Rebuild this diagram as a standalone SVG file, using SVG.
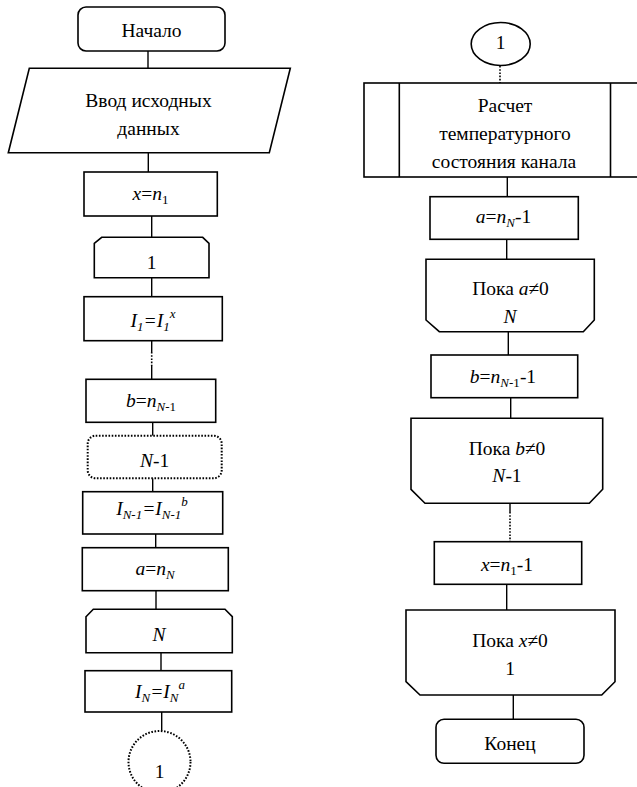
<svg xmlns="http://www.w3.org/2000/svg" width="637" height="787" viewBox="0 0 637 787">
<style>
.s{fill:#fff;stroke:#000;stroke-width:1.6}
.d{fill:#fff;stroke:#000;stroke-width:2;stroke-dasharray:1.6 1.6}
.c{stroke:#000;stroke-width:1.4;fill:none}
.cd{stroke:#000;stroke-width:1.6;fill:none;stroke-dasharray:1.6 1.6}
text{font-family:'Liberation Serif','Times New Roman',serif;font-size:19.5px;fill:#000;text-anchor:middle}
.i{font-style:italic}
.sb{font-size:13px}
</style>
<rect width="637" height="787" fill="#fff"/>
<g id="connectors">
<line class="c" x1="148" y1="51" x2="148" y2="68"/>
<line class="c" x1="148.3" y1="153" x2="148.3" y2="172"/>
<line class="c" x1="151.7" y1="216" x2="151.7" y2="237.3"/>
<line class="c" x1="151.7" y1="277.7" x2="151.7" y2="296.7"/>
<line class="c" x1="151.7" y1="340.7" x2="151.7" y2="352"/>
<line class="cd" x1="151.7" y1="352" x2="151.7" y2="366"/>
<line class="c" x1="151.7" y1="366" x2="151.7" y2="379.3"/>
<line class="c" x1="152.7" y1="422.3" x2="152.7" y2="435.7"/>
<line class="c" x1="152.7" y1="478.3" x2="152.7" y2="491.7"/>
<line class="c" x1="155.7" y1="534" x2="155.7" y2="547.7"/>
<line class="c" x1="156" y1="590.7" x2="156" y2="609.3"/>
<line class="c" x1="161" y1="652.7" x2="161" y2="670.7"/>
<line class="c" x1="161.7" y1="712" x2="161.7" y2="731"/>
<line class="cd" x1="500" y1="66" x2="500" y2="83"/>
<line class="c" x1="507.3" y1="177" x2="507.3" y2="196.7"/>
<line class="c" x1="506.7" y1="239.3" x2="506.7" y2="259.3"/>
<line class="c" x1="508.3" y1="331.7" x2="508.3" y2="355"/>
<line class="c" x1="510.7" y1="397.7" x2="510.7" y2="418.3"/>
<line class="c" x1="510" y1="503.3" x2="510" y2="512"/>
<line class="cd" x1="510" y1="512" x2="510" y2="541.7"/>
<line class="c" x1="506.7" y1="584.3" x2="506.7" y2="610"/>
<line class="c" x1="513.3" y1="695" x2="513.3" y2="719.3"/>
</g>
<g id="start">
<rect class="s" x="78" y="7" width="147" height="44" rx="8"/>
<text x="151.5" y="36.5">Начало</text>
</g>
<g id="input">
<polygon class="s" points="29.3,68.3 290.3,68.3 269.3,152.7 8.3,152.7"/>
<text x="148.5" y="107.3">Ввод исходных</text>
<text x="148.5" y="135">данных</text>
</g>
<g id="x_n1">
<rect class="s" x="84" y="172" width="133.3" height="44"/>
<text x="150.5" y="200"><tspan class="i">x</tspan>=<tspan class="i">n</tspan><tspan class="sb" dy="4">1</tspan></text>
</g>
<g id="loop1">
<polygon class="s" points="94.3,243.3 101.7,237.3 202.7,237.3 209,243.3 209,277.7 94.3,277.7"/>
<text x="151.7" y="269">1</text>
</g>
<g id="I1">
<rect class="s" x="84" y="296.7" width="138.3" height="44"/>
<text x="153" y="326.7" class="i">I<tspan class="sb" dy="4">1</tspan><tspan dy="-4">=I</tspan><tspan class="sb" dy="4">1</tspan><tspan class="sb" dy="-13">x</tspan></text>
</g>
<g id="b_nN1">
<rect class="s" x="86" y="379.3" width="129.7" height="43"/>
<text x="151" y="406.7"><tspan class="i">b</tspan>=<tspan class="i">n</tspan><tspan class="sb" dy="4"><tspan class="i">N</tspan>-1</tspan></text>
</g>
<g id="loopN1">
<rect class="d" x="87.7" y="435.7" width="134" height="42.6" rx="8"/>
<text x="154.7" y="467.3"><tspan class="i">N</tspan>-1</text>
</g>
<g id="IN1">
<rect class="s" x="82.7" y="491.7" width="140" height="42.3"/>
<text x="152" y="515" class="i">I<tspan class="sb" dy="4">N-1</tspan><tspan dy="-4">=I</tspan><tspan class="sb" dy="4">N-1</tspan><tspan class="sb" dy="-13">b</tspan></text>
</g>
<g id="a_nN">
<rect class="s" x="82.3" y="547.7" width="146" height="43"/>
<text x="155" y="575"><tspan class="i">a</tspan>=<tspan class="i">n</tspan><tspan class="sb i" dy="4">N</tspan></text>
</g>
<g id="loopN">
<polygon class="s" points="86,616.7 93.3,609.3 225,609.3 232.3,616.7 232.3,652.7 86,652.7"/>
<text x="159" y="641" class="i">N</text>
</g>
<g id="IN">
<rect class="s" x="85" y="670.7" width="146.7" height="41.3"/>
<text x="160" y="698.3" class="i">I<tspan class="sb" dy="4">N</tspan><tspan dy="-4">=I</tspan><tspan class="sb" dy="4">N</tspan><tspan class="sb" dy="-13">a</tspan></text>
</g>
<g id="conn_out">
<circle class="d" cx="159.5" cy="762" r="31"/>
<text x="159.5" y="778">1</text>
</g>
<g id="conn_in">
<ellipse class="s" cx="500.7" cy="44" rx="29.5" ry="21.5"/>
<text x="500.7" y="48.5">1</text>
</g>
<g id="calc">
<rect class="s" x="364" y="83" width="282" height="94"/>
<line class="s" x1="399.3" y1="83" x2="399.3" y2="177"/>
<line class="s" x1="610.5" y1="83" x2="610.5" y2="177"/>
<text x="505" y="111.7">Расчет</text>
<text x="505" y="140">температурного</text>
<text x="504" y="168.3">состояния канала</text>
</g>
<g id="a_nN_1">
<rect class="s" x="430" y="196.7" width="148.3" height="42.6"/>
<text x="503.5" y="223"><tspan class="i">a</tspan>=<tspan class="i">n</tspan><tspan class="sb i" dy="4">N</tspan><tspan dy="-4">-1</tspan></text>
</g>
<g id="while_a">
<polygon class="s" points="426,259.3 594.3,259.3 594.3,320 583.3,331.7 439.3,331.7 426,320"/>
<text x="510.5" y="295">Пока <tspan class="i">a</tspan>≠0</text>
<text x="510" y="322.7" class="i">N</text>
</g>
<g id="b_nN1_1">
<rect class="s" x="431" y="355" width="146.7" height="42.7"/>
<text x="503" y="382.7"><tspan class="i">b</tspan>=<tspan class="i">n</tspan><tspan class="sb" dy="4"><tspan class="i">N</tspan>-1</tspan><tspan dy="-4">-1</tspan></text>
</g>
<g id="while_b">
<polygon class="s" points="411,418.3 602.7,418.3 602.7,489.3 589.3,503.3 425,503.3 411,489.3"/>
<text x="507" y="455">Пока <tspan class="i">b</tspan>≠0</text>
<text x="507" y="481.7"><tspan class="i">N</tspan>-1</text>
</g>
<g id="x_n1_1">
<rect class="s" x="434.3" y="541.7" width="147.4" height="42.6"/>
<text x="507" y="570.7"><tspan class="i">x</tspan>=<tspan class="i">n</tspan><tspan class="sb" dy="4">1</tspan><tspan dy="-4">-1</tspan></text>
</g>
<g id="while_x">
<polygon class="s" points="406,610 615,610 615,681.7 601.7,695 420,695 406,681.7"/>
<text x="510" y="646.7">Пока <tspan class="i">x</tspan>≠0</text>
<text x="510" y="675">1</text>
</g>
<g id="end">
<rect class="s" x="436" y="719.3" width="148" height="44" rx="8"/>
<text x="510" y="750">Конец</text>
</g>
</svg>
